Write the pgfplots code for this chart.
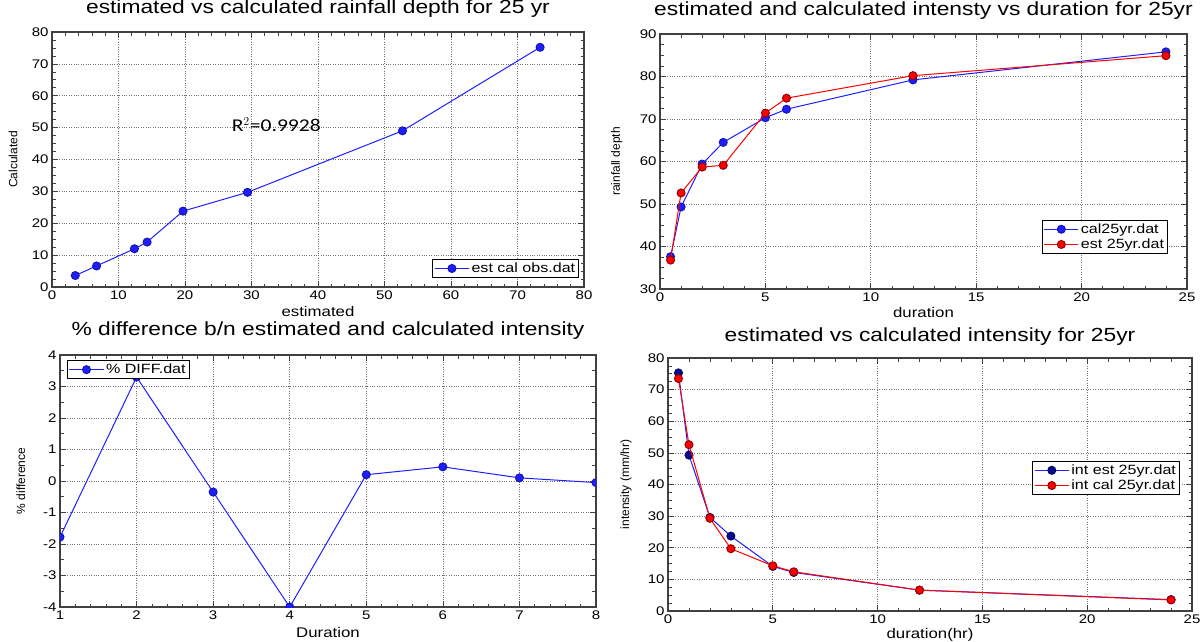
\documentclass[border=0pt]{standalone}
\usepackage{fontspec}
\setmainfont{Liberation Sans}[FakeStretch=1.2]
\newfontfamily\plainsans{Liberation Sans}
\newfontfamily\carlito{Carlito}[FakeStretch=1.2]
\usepackage{pgfplots}
\pgfplotsset{compat=1.18}
\definecolor{lblue}{RGB}{30,30,255}
\definecolor{navy}{RGB}{10,10,140}
\pgfplotsset{mystyle/.style={
  scale only axis,
  font=\fontsize{12.5}{15}\selectfont,
  /pgf/number format/assume math mode=true,
  grid=major,
  major grid style={dotted, black!55, line width=0.7pt},
  tick align=inside,
  major tick length=6pt, minor tick length=3.5pt,
  axis line style={line width=1.2pt, black!75},
  every tick/.style={black!75, line width=0.7pt},
  title style={font=\fontsize{19}{21}\selectfont, anchor=center},
  xlabel style={font=\fontsize{14}{16}\selectfont},
  ylabel style={font=\plainsans\fontsize{12}{14}\selectfont},
  legend style={font=\fontsize{13.4}{15}\selectfont, draw=black, line width=1pt, inner sep=1.5pt, row sep=0pt},
  legend image code/.code={\draw[mark repeat=2,mark phase=2] plot coordinates {(0cm,0cm) (0.6cm,0cm) (1.2cm,0cm)};},
  legend cell align=left,
  clip marker paths=true,
  scaled ticks=false,
  tick label style={font=\fontsize{12.5}{15}\selectfont},
}}
\begin{document}
\begin{tikzpicture}
\useasboundingbox (0,0) rectangle (1204pt,-642pt);
% ---------- top left
\begin{axis}[mystyle, at={(52pt,-287pt)}, anchor=south west, width=532pt, height=255pt,
  xmin=0,xmax=80,ymin=0,ymax=80, xtick={0,10,...,80}, ytick={0,10,...,80},
  minor x tick num=4, minor y tick num=3,
  title={estimated vs calculated rainfall depth for 25 yr}, title style={at={(0.5,1.067)}},
  xlabel={estimated}, xlabel style={at={(0.5,-0.098)}, anchor=center},
  ylabel={Calculated}, ylabel style={at={(-0.073,0.5)}, anchor=center},
  legend style={at={(0.991,0.035)}, anchor=south east}]
\addplot[lblue, line width=1pt, mark=*, mark size=4pt, mark options={fill=lblue, draw=lblue!70!black}] coordinates {
(3.5,3.6) (6.7,6.6) (12.4,12.0) (14.3,14.1) (19.7,23.8) (29.4,29.7) (52.7,49.0) (73.4,75.2)};
\addlegendentry{est cal obs.dat}
\node[anchor=west, font=\carlito\fontsize{18}{20}\selectfont] at (axis cs:26.5,51) {R$^{2}$=0.9928};
\end{axis}
% ---------- top right
\begin{axis}[mystyle, at={(660pt,-289pt)}, anchor=south west, width=527pt, height=255pt,
  xmin=0,xmax=25,ymin=30,ymax=90, xtick={0,5,...,25}, ytick={30,40,...,90},
  minor x tick num=4, minor y tick num=3,
  title={estimated and calculated intensty vs duration for 25yr}, title style={at={(0.5,1.067)}},
  xlabel={duration}, xlabel style={at={(0.5,-0.094)}, anchor=center},
  ylabel={rainfall depth}, ylabel style={at={(-0.082,0.5)}, anchor=center},
  legend style={at={(0.964,0.137)}, anchor=south east}]
\addplot[lblue, line width=1pt, mark=*, mark size=4pt, mark options={fill=lblue, draw=lblue!70!black}] coordinates {
(0.5,37.6) (1,49.3) (2,59.4) (3,64.5) (5,70.3) (6,72.3) (12,79.2) (24,85.8)};
\addlegendentry{cal25yr.dat}
\addplot[red, line width=1pt, mark=*, mark size=4pt, mark options={fill=red, draw=red!60!black}] coordinates {
(0.5,36.8) (1,52.6) (2,58.7) (3,59.1) (5,71.4) (6,74.9) (12,80.2) (24,84.9)};
\addlegendentry{est 25yr.dat}
\end{axis}
% ---------- bottom left
\begin{axis}[mystyle, at={(60pt,-607pt)}, anchor=south west, width=536pt, height=252pt,
  xmin=1,xmax=8,ymin=-4,ymax=4, xtick={1,...,8}, ytick={-4,...,4},
  minor x tick num=4, minor y tick num=1,
  title={\% difference b/n estimated and calculated intensity}, title style={at={(0.5,1.075)}},
  xlabel={Duration}, xlabel style={at={(0.5,-0.103)}, anchor=center},
  ylabel={\% difference}, ylabel style={at={(-0.073,0.5)}, anchor=center},
  legend style={at={(0.013,0.98)}, anchor=north west}]
\addplot[lblue, line width=1pt, mark=*, mark size=4pt, mark options={fill=lblue, draw=lblue!70!black}] coordinates {
(1,-1.78) (2,3.3) (3,-0.35) (4,-4.0) (5,0.2) (6,0.45) (7,0.1) (8,-0.05)};
\addlegendentry{\% DIFF.dat}
\end{axis}
% ---------- bottom right
\begin{axis}[mystyle, at={(668pt,-611pt)}, anchor=south west, width=524pt, height=253pt,
  xmin=0,xmax=25,ymin=0,ymax=80, xtick={0,5,...,25}, ytick={0,10,...,80},
  minor x tick num=4, minor y tick num=3,
  title={estimated vs calculated intensity for 25yr}, title style={at={(0.5,1.059)}},
  xlabel={duration(hr)}, xlabel style={at={(0.5,-0.095)}, anchor=center},
  ylabel={intensity (mm/hr)}, ylabel style={at={(-0.080,0.5)}, anchor=center},
  legend style={at={(0.977,0.458)}, anchor=south east}]
\addplot[lblue, line width=1pt, mark=*, mark size=4pt, mark options={fill=navy, draw=navy!70!black}] coordinates {
(0.5,75.3) (1,49.3) (2,29.6) (3,23.7) (5,14.1) (6,12.2) (12,6.6) (24,3.6)};
\addlegendentry{int est 25yr.dat}
\addplot[red, line width=1pt, mark=*, mark size=4pt, mark options={fill=red, draw=red!60!black}] coordinates {
(0.5,73.5) (1,52.6) (2,29.3) (3,19.7) (5,14.3) (6,12.4) (12,6.6) (24,3.5)};
\addlegendentry{int cal 25yr.dat}
\end{axis}
\end{tikzpicture}
\end{document}
